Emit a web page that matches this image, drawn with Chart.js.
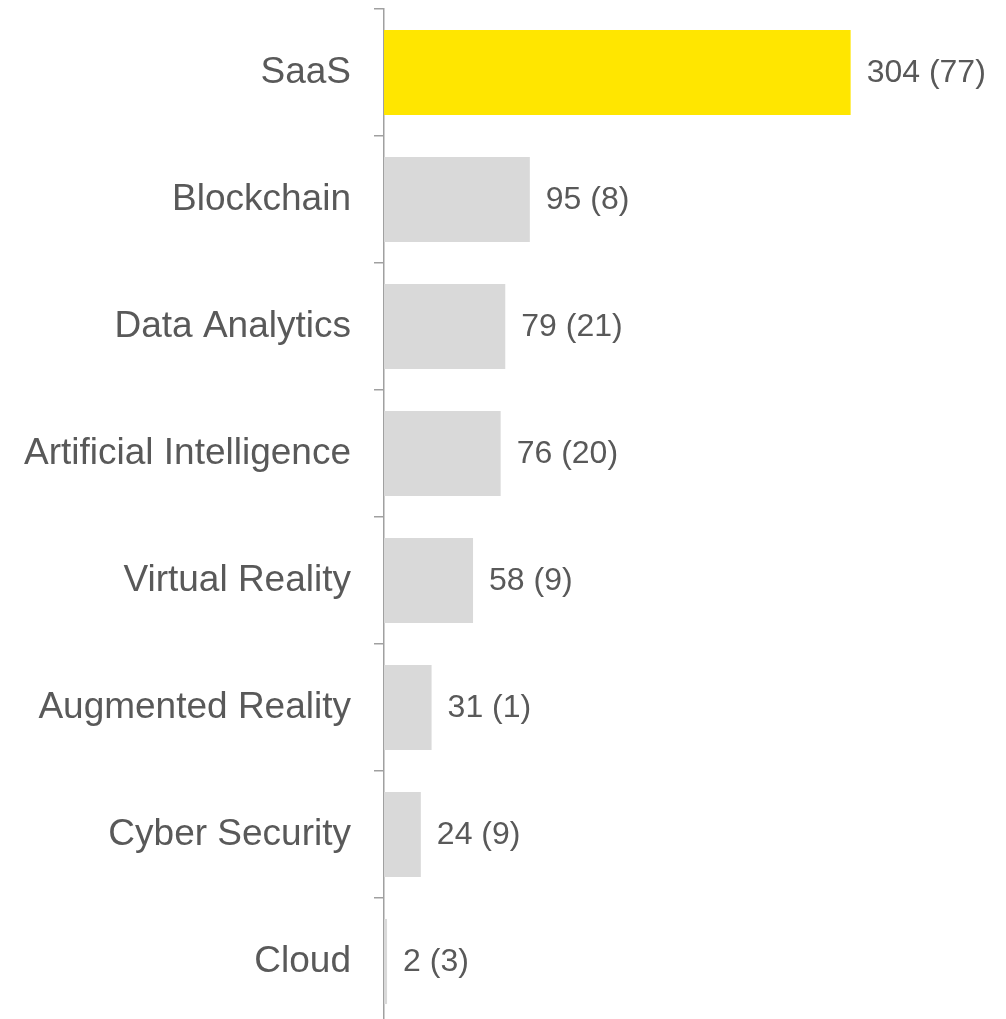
<!DOCTYPE html>
<html>
<head>
<meta charset="utf-8">
<script src="https://cdn.jsdelivr.net/npm/chart.js@4"></script>
<style>
  html, body { margin: 0; padding: 0; background: #fff; overflow: hidden; }
  #wrap { width: 1006px; height: 1025px; }
</style>
</head>
<body>
<div id="wrap"><canvas id="chart"></canvas></div>
<script>
// Chart data
const categories = ['SaaS', 'Blockchain', 'Data Analytics', 'Artificial Intelligence',
    'Virtual Reality', 'Augmented Reality', 'Cyber Security', 'Cloud'];
const values = [304, 95, 79, 76, 58, 31, 24, 2];
const bracketValues = [77, 8, 21, 20, 9, 1, 9, 3];
const barColors = ['#FFE600', '#D9D9D9', '#D9D9D9', '#D9D9D9', '#D9D9D9', '#D9D9D9', '#D9D9D9', '#D9D9D9'];

// Draws "value (bracket)" after the end of each bar
const valueLabels = {
    id: 'valueLabels',
    afterDatasetsDraw(chart) {
        const ctx = chart.ctx;
        const meta = chart.getDatasetMeta(0);
        ctx.save();
        ctx.font = '32px "Liberation Sans", Arial, sans-serif';
        ctx.fillStyle = '#595959';
        ctx.textAlign = 'left';
        ctx.textBaseline = 'middle';
        meta.data.forEach((bar, i) => {
            ctx.fillText(`${values[i]} (${bracketValues[i]})`, bar.x + 16, bar.y + 1);
        });
        ctx.restore();
    }
};

const ctx = document.getElementById('chart').getContext('2d');
new Chart(ctx, {
    type: 'bar',
    data: {
        labels: categories,
        datasets: [{
            data: values,
            backgroundColor: barColors,
            borderWidth: 0,
            barPercentage: 0.67,
            categoryPercentage: 1
        }]
    },
    options: {
        indexAxis: 'y',
        responsive: true,
        maintainAspectRatio: false,
        animation: false,
        layout: { padding: { top: 9, right: 8, left: 0, bottom: 0 } },
        plugins: {
            legend: { display: false },
            tooltip: { enabled: false }
        },
        scales: {
            x: {
                display: false,
                min: 0,
                max: 400
            },
            y: {
                afterFit(scale) {
                    scale.width = 384;
                    scale.paddingTop = 0;
                    scale.paddingBottom = 0;
                },
                grid: {
                    offset: true,
                    drawOnChartArea: false,
                    drawTicks: true,
                    tickLength: 10,
                    color: '#a0a0a0',
                    lineWidth: 1.5
                },
                border: { display: true, color: '#a0a0a0', width: 1.5 },
                ticks: {
                    padding: 23,
                    color: '#595959',
                    font: { family: '"Liberation Sans", Arial, sans-serif', size: 37 }
                }
            }
        }
    },
    plugins: [valueLabels]
});
</script>
</body>
</html>
